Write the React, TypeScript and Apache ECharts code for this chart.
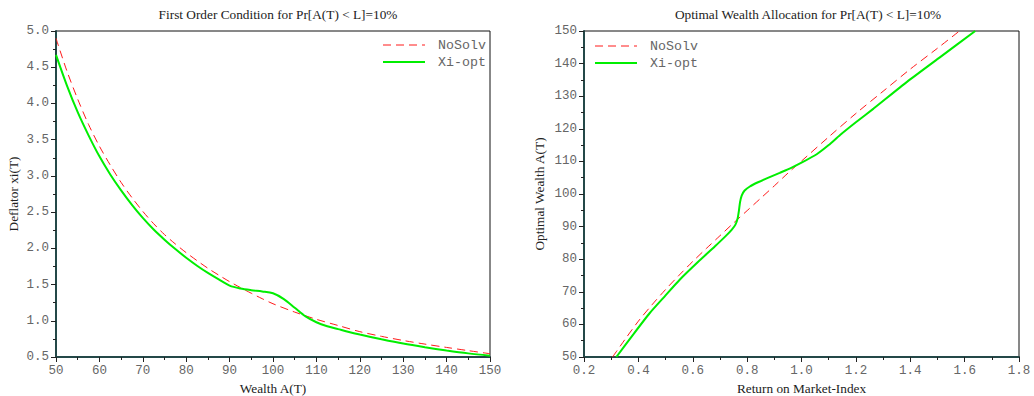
import React, { useEffect, useRef } from "react";
import * as echarts from "echarts";

// Left panel: deflator xi(T) vs wealth A(T)
const wealthNoSolv = [50, 52.5, 55, 57.5, 60, 62.5, 65, 67.5, 70, 72.5, 75, 77.5, 80, 82.5, 85, 87.5, 90, 92.5, 95, 97.5, 100, 105, 110, 115, 120, 125, 130, 135, 140, 145, 150];
const xiNoSolv = [4.9, 4.45, 4.06, 3.71, 3.41, 3.15, 2.91, 2.7, 2.51, 2.34, 2.19, 2.06, 1.94, 1.83, 1.725, 1.63, 1.54, 1.458, 1.38, 1.305, 1.235, 1.12, 1.02, 0.935, 0.85, 0.785, 0.728, 0.678, 0.632, 0.588, 0.545];

const wealthOpt = [50, 52.5, 55, 57.5, 60, 62.5, 65, 67.5, 70, 72.5, 75, 77.5, 80, 82.5, 85, 87.5, 90, 92.5, 95, 97.5, 100, 102.5, 105, 107.5, 110, 112.5, 115, 117.5, 120, 125, 130, 135, 140, 145, 150];
const xiOpt = [4.67, 4.25, 3.88, 3.56, 3.27, 3.02, 2.8, 2.6, 2.42, 2.26, 2.12, 1.99, 1.87, 1.76, 1.66, 1.57, 1.485, 1.445, 1.422, 1.405, 1.38, 1.3, 1.18, 1.06, 0.98, 0.925, 0.885, 0.845, 0.81, 0.745, 0.685, 0.635, 0.59, 0.55, 0.518];

// Right panel: optimal wealth A(T) vs return on market index
const returnNoSolv = [0.305, 0.35, 0.4, 0.45, 0.5, 0.55, 0.6, 0.65, 0.7, 0.75, 0.8, 0.85, 0.9, 0.95, 1.0, 1.1, 1.2, 1.3, 1.4, 1.5, 1.581];
const allocNoSolv = [50, 55.3, 61.0, 66.0, 70.7, 75.1, 79.3, 83.3, 87.2, 91.1, 94.9, 98.7, 102.5, 106.4, 110.1, 117.5, 124.7, 131.5, 138.3, 144.7, 150];

const returnOpt = [0.319, 0.38, 0.442, 0.5, 0.552, 0.62, 0.681, 0.72, 0.743, 0.757, 0.765, 0.77, 0.774, 0.78, 0.79, 0.81, 0.84, 0.872, 0.92, 0.964, 1.0, 1.056, 1.1, 1.142, 1.2, 1.265, 1.388, 1.51, 1.639];
const allocOpt = [50, 56.8, 63.5, 68.9, 73.7, 79.2, 83.9, 87.0, 89.0, 90.6, 92.5, 95.0, 97.5, 99.5, 101.0, 102.3, 103.6, 104.8, 106.5, 108.1, 109.6, 112.2, 115.0, 118.1, 122.0, 126.2, 134.4, 142.0, 150];

const seriesNames = ["NoSolv", "Xi-opt"];
const leftTitle = "First Order Condition for Pr[A(T) < L]=10%";
const rightTitle = "Optimal Wealth Allocation for Pr[A(T) < L]=10%";

const zip = (xs: number[], ys: number[]) => xs.map((x, i) => [x, ys[i]]);

const MONO = "'Liberation Mono', 'DejaVu Sans Mono', monospace";
const SERIF = "'Liberation Serif', 'DejaVu Serif', serif";
const AXIS_COLOR = "#244848";
const RED = "#ff1a1a";
const GREEN = "#00ee00";
const DASH = [8, 5];

function axisCommon(extra: any) {
  return {
    type: "value",
    axisLine: { show: true, onZero: false, lineStyle: { color: AXIS_COLOR, width: 2 } },
    axisTick: { show: true, inside: false, length: 5, lineStyle: { color: "#222", width: 1 } },
    minorTick: { show: true, splitNumber: 2, length: 3, lineStyle: { color: "#222", width: 1 } },
    splitLine: { show: false },
    axisLabel: { color: "#666", fontFamily: MONO, fontSize: 12.5, margin: 7 },
    nameLocation: "middle",
    nameTextStyle: { fontFamily: SERIF, fontSize: 13.3, color: "#222" },
    ...extra,
  };
}

function legendGraphic(x: number, y: number) {
  const gap = 17;
  return {
    type: "group",
    x,
    y,
    children: [
      { type: "line", shape: { x1: 0, y1: 0, x2: 42, y2: 0 }, style: { stroke: RED, lineWidth: 1, lineDash: DASH } },
      { type: "text", x: 55, y: 0, style: { text: seriesNames[0], fontFamily: MONO, fontSize: 13.3, fill: "#666", verticalAlign: "middle" } },
      { type: "line", shape: { x1: 0, y1: gap, x2: 42, y2: gap }, style: { stroke: GREEN, lineWidth: 2 } },
      { type: "text", x: 55, y: gap, style: { text: seriesNames[1], fontFamily: MONO, fontSize: 13.3, fill: "#666", verticalAlign: "middle" } },
    ],
  };
}

export default function App() {
  const ref = useRef<HTMLDivElement>(null);
  useEffect(() => {
    document.documentElement.style.overflow = "hidden";
    document.body.style.margin = "0";
    document.body.style.overflow = "hidden";
    if (!ref.current) return;
    const chart = echarts.init(ref.current, null, { renderer: "svg", width: 1034, height: 396 });
    const noSolvStyle = { color: RED, width: 1, type: DASH as any };
    const optStyle = { color: GREEN, width: 2 };
    chart.setOption({
      animation: false,
      backgroundColor: "#ffffff",
      title: [
        { text: leftTitle, left: 273, top: 3, textAlign: "center", textStyle: { fontFamily: SERIF, fontSize: 13.3, fontWeight: "normal", color: "#222" } },
        { text: rightTitle, left: 803, top: 3, textAlign: "center", textStyle: { fontFamily: SERIF, fontSize: 13.3, fontWeight: "normal", color: "#222" } },
      ],
      graphic: [legendGraphic(383, 45), legendGraphic(595, 46)],
      grid: [
        { left: 56, top: 31, width: 434, height: 326, outerBoundsMode: "none", containLabel: false, show: true, borderColor: "#111", borderWidth: 1, backgroundColor: "transparent" },
        { left: 584, top: 31, width: 435, height: 326, outerBoundsMode: "none", containLabel: false, show: true, borderColor: "#111", borderWidth: 1, backgroundColor: "transparent" },
      ],
      xAxis: [
        axisCommon({ gridIndex: 0, min: 50, max: 150, interval: 10, name: "Wealth A(T)", nameGap: 24 }),
        axisCommon({
          gridIndex: 1, min: 0.2, max: 1.8, interval: 0.2, name: "Return on Market-Index", nameGap: 24,
          axisLabel: { color: "#666", fontFamily: MONO, fontSize: 12.5, margin: 7, formatter: (v: number) => v.toFixed(1) },
        }),
      ],
      yAxis: [
        axisCommon({
          gridIndex: 0, min: 0.5, max: 5.0, interval: 0.5, name: "Deflator xi(T)", nameGap: 36,
          axisLabel: { color: "#666", fontFamily: MONO, fontSize: 12.5, margin: 7, formatter: (v: number) => v.toFixed(1) },
        }),
        axisCommon({ gridIndex: 1, min: 50, max: 150, interval: 10, name: "Optimal Wealth A(T)", nameGap: 38 }),
      ],
      series: [
        { name: seriesNames[0], type: "line", xAxisIndex: 0, yAxisIndex: 0, data: zip(wealthNoSolv, xiNoSolv), showSymbol: false, symbol: "none", smooth: 0.3, lineStyle: noSolvStyle, itemStyle: { color: RED } },
        { name: seriesNames[1], type: "line", xAxisIndex: 0, yAxisIndex: 0, data: zip(wealthOpt, xiOpt), showSymbol: false, symbol: "none", smooth: 0.3, lineStyle: optStyle, itemStyle: { color: GREEN } },
        { name: seriesNames[0], type: "line", xAxisIndex: 1, yAxisIndex: 1, data: zip(returnNoSolv, allocNoSolv), showSymbol: false, symbol: "none", smooth: 0.3, lineStyle: noSolvStyle, itemStyle: { color: RED } },
        { name: seriesNames[1], type: "line", xAxisIndex: 1, yAxisIndex: 1, data: zip(returnOpt, allocOpt), showSymbol: false, symbol: "none", smooth: 0.2, lineStyle: optStyle, itemStyle: { color: GREEN } },
      ],
    });
    return () => chart.dispose();
  }, []);
  return <div ref={ref} style={{ position: "fixed", left: 0, top: 0, width: 1034, height: 396 }} />;
}
